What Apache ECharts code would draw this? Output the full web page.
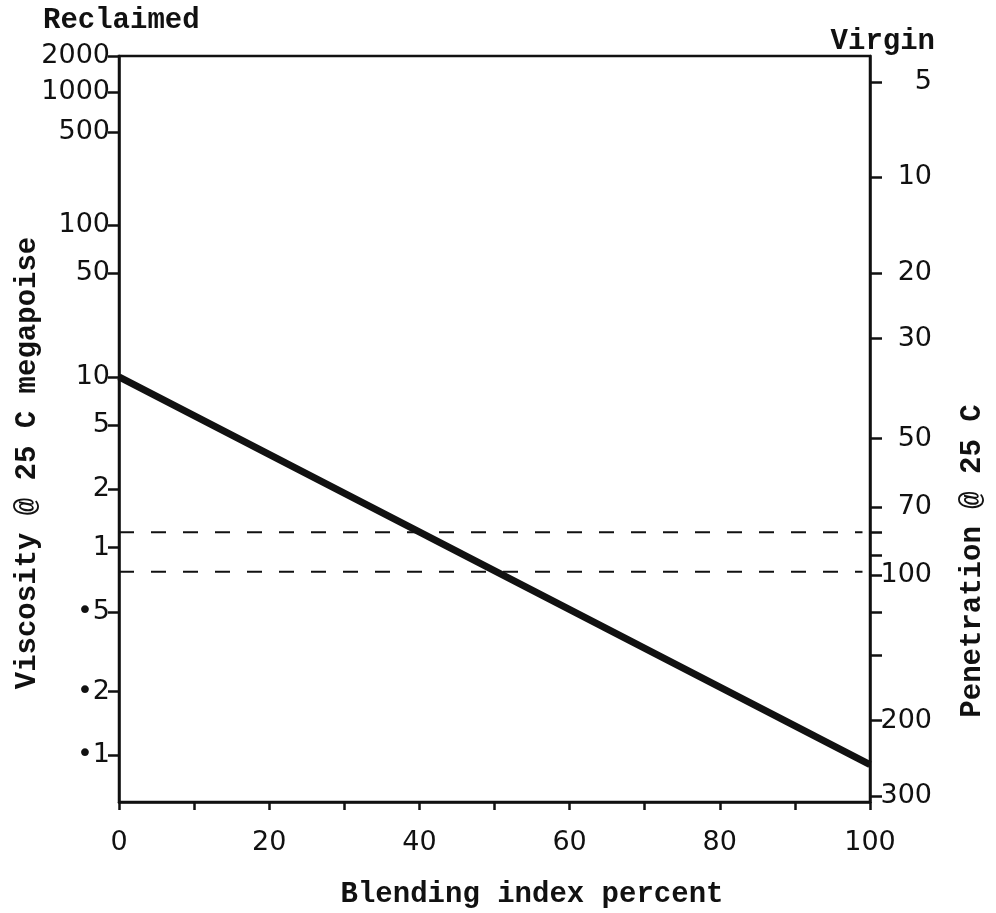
<!DOCTYPE html>
<html>
<head>
<meta charset="utf-8">
<script src="https://cdn.jsdelivr.net/npm/echarts@6/dist/echarts.min.js"></script>
<style>
  html, body { margin: 0; padding: 0; background: #fff; }
  #chart { width: 996px; height: 913px; }
</style>
</head>
<body>
<div id="chart"></div>
<script>
// blend line data (viscosity in megapoise)
const blend = [0, 100];
const viscosity = [10, 0.09];
// dashed guide lines (viscosity)
const dashBlend = [0, 99];
const dashUpper = [1.2, 1.2];
const dashLower = [0.77, 0.77];

// left axis: viscosity scale (not a plain log scale, so ticks are given with their places)
const leftValues = [2000, 1000, 500, 100, 50, 10, 5, 2, 1, 0.5, 0.2, 0.1];
const leftLabels = ['2000', '1000', '500', '100', '50', '10', '5', '2', '1', '•5', '•2', '•1'];
const leftPos = [0, 0.048, 0.102, 0.227, 0.291, 0.430, 0.495, 0.581, 0.659, 0.745, 0.852, 0.937];

// right axis: penetration scale
const rightLabels = ['5', '10', '20', '30', '50', '70', '', '', '100', '', '', '200', '300'];
const rightPos = [0.035, 0.162, 0.291, 0.379, 0.513, 0.605, 0.638, 0.669, 0.696, 0.746, 0.803, 0.891, 0.992];

// map a viscosity onto the left scale (log steps between ticks)
function viscToPos(v) {
    let i = 0;
    while (i < leftValues.length - 2 && v < leftValues[i + 1]) i++;
    const a = leftValues[i], b = leftValues[i + 1];
    const t = Math.log(a / v) / Math.log(a / b);
    return leftPos[i] + t * (leftPos[i + 1] - leftPos[i]);
}

function labelAt(posList, labels) {
    return function (value) {
        for (let i = 0; i < posList.length; i++) {
            if (Math.abs(posList[i] - value) < 1e-6) return labels[i];
        }
        return '';
    };
}

const chart = echarts.init(document.getElementById('chart'));

const ink = '#111';
const mono = "'Liberation Mono', 'DejaVu Sans Mono', monospace";
const sans = "'DejaVu Sans', sans-serif";

const option = {
    backgroundColor: '#fff',
    animation: false,
    grid: {
        left: 119, right: 126, top: 56, bottom: 111,
        show: true, borderColor: ink, borderWidth: 2.5
    },
    graphic: [
        { type: 'text', x: 43, y: 21, style: { text: 'Reclaimed', font: 'bold 29px ' + mono, fill: ink, textVerticalAlign: 'middle' } },
        { type: 'text', x: 935, y: 42, style: { text: 'Virgin', font: 'bold 29px ' + mono, fill: ink, textAlign: 'right', textVerticalAlign: 'middle' } },
        { type: 'text', x: 28, y: 463, rotation: Math.PI / 2, style: { text: 'Viscosity @ 25 C megapoise', font: 'bold 29px ' + mono, fill: ink, textAlign: 'center', textVerticalAlign: 'middle' } },
        { type: 'text', x: 973, y: 561, rotation: Math.PI / 2, style: { text: 'Penetration @ 25 C', font: 'bold 29px ' + mono, fill: ink, textAlign: 'center', textVerticalAlign: 'middle' } },
        { type: 'text', x: 532, y: 895, style: { text: 'Blending index percent', font: 'bold 29px ' + mono, fill: ink, textAlign: 'center', textVerticalAlign: 'middle' } }
    ],
    xAxis: {
        type: 'value', min: 0, max: 100, interval: 10,
        axisLine: { onZero: false, lineStyle: { color: ink, width: 2.5 } },
        axisTick: { length: 8, lineStyle: { color: ink, width: 2.5 } },
        axisLabel: {
            margin: 27, color: ink, fontFamily: sans, fontSize: 27,
            formatter: function (v) { return v % 20 === 0 ? String(v) : ''; }
        },
        splitLine: { show: false }
    },
    yAxis: [
        {
            type: 'value', min: 0, max: 1, inverse: true, position: 'left',
            axisLine: { show: true, onZero: false, lineStyle: { color: ink, width: 2.5 } },
            axisTick: { customValues: leftPos, length: 11, lineStyle: { color: ink, width: 2.5 } },
            axisLabel: {
                customValues: leftPos, margin: 9, color: ink, fontFamily: sans, fontSize: 27,
                formatter: labelAt(leftPos, leftLabels)
            },
            splitLine: { show: false }
        },
        {
            type: 'value', min: 0, max: 1, inverse: true, position: 'right',
            axisLine: { show: true, onZero: false, lineStyle: { color: ink, width: 2.5 } },
            axisTick: { customValues: rightPos, length: 12, lineStyle: { color: ink, width: 2.5 } },
            axisLabel: {
                customValues: rightPos, margin: 62, align: 'right', color: ink, fontFamily: sans, fontSize: 27,
                formatter: labelAt(rightPos, rightLabels)
            },
            splitLine: { show: false }
        }
    ],
    series: [
        {
            name: 'Blend', type: 'line', yAxisIndex: 0, symbol: 'none',
            lineStyle: { color: ink, width: 7 },
            data: blend.map(function (b, i) { return [b, viscToPos(viscosity[i])]; })
        },
        {
            name: 'Upper', type: 'line', yAxisIndex: 0, symbol: 'none',
            lineStyle: { color: ink, width: 2, type: [15, 17] },
            data: dashBlend.map(function (b, i) { return [b, viscToPos(dashUpper[i])]; })
        },
        {
            name: 'Lower', type: 'line', yAxisIndex: 0, symbol: 'none',
            lineStyle: { color: ink, width: 2, type: [15, 17] },
            data: dashBlend.map(function (b, i) { return [b, viscToPos(dashLower[i])]; })
        }
    ]
};

chart.setOption(option);
</script>
</body>
</html>
